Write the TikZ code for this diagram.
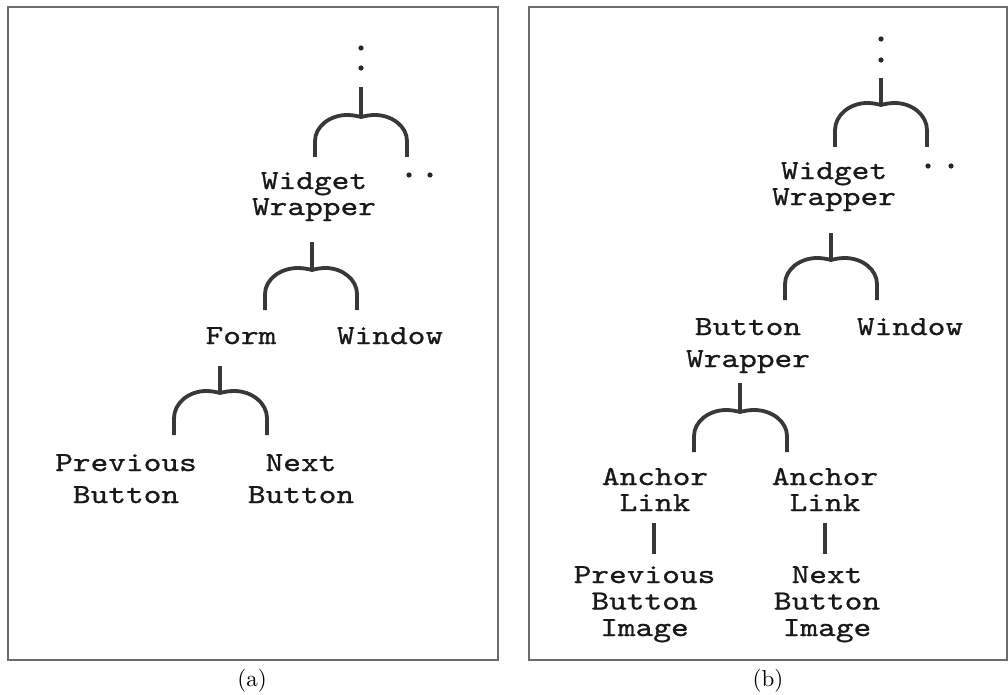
\documentclass[tikz,border=0pt]{standalone}
\usepackage{fontspec}
\newfontfamily\labelfont{lmmono10-regular.otf}[FakeStretch=1.226, FakeBold=0.9]
\newfontfamily\capfont{lmroman10-regular.otf}

% one label: centred lines, base anchor = baseline of the first line
\newcommand\stacklines[2][26]{%
  \vtop{\baselineskip=#1pt\lineskiplimit=-100pt
    \halign{\hfil##\hfil\cr#2\crcr}}}

% fork: stem from (cx,top) to junction (cx,jy), round arms down to (lx,by) and (rx,by)
% #1 name, #2 cx, #3 top, #4 jy, #5 lx, #6 rx, #7 by
\newcommand\fork[7]{%
  \coordinate (#1-t) at (#2,#3);
  \coordinate (#1-j) at (#2,#4);
  \coordinate (#1-l) at (#5,#7);
  \coordinate (#1-r) at (#6,#7);
  \draw[forkline] (#1-t) -- (#1-j);
  \pgfmathsetmacro\fkdl{#5-#2}%
  \pgfmathsetmacro\fkdr{#6-#2}%
  \pgfmathsetmacro\fkry{0.6*(#7-#4)}%
  \draw[forkline] (#1-l) -- ({#5},{#4+\fkry})
    .. controls ({#5},{#4+\fkry-0.552*(\fkry+2)}) and ({#2+0.68*\fkdl},{#4-2})
    .. ({#2+0.3*\fkdl},{#4-2})
    .. controls ({#2+0.18*\fkdl},{#4-2}) and ({#2+0.09*\fkdl},{#4-1}) .. (#1-j)
    .. controls ({#2+0.09*\fkdr},{#4-1}) and ({#2+0.18*\fkdr},{#4-2})
    .. ({#2+0.3*\fkdr},{#4-2})
    .. controls ({#2+0.68*\fkdr},{#4-2}) and ({#6},{#4+\fkry-0.552*(\fkry+2)})
    .. ({#6},{#4+\fkry}) -- (#1-r);
}

\tikzset{
  lbl/.style={font=\labelfont\fontsize{27.5}{26}\selectfont, inner sep=0pt,
              anchor=base, text=black!90},
  forkline/.style={line width=3.8pt, draw=black!78, line join=round},
  panel/.style={line width=1.6pt, draw=black!58},
  capt/.style={font=\capfont\fontsize{23}{27}\selectfont, inner sep=0pt, anchor=base},
  dotmark/.style={fill=black!85},
}

\begin{document}
\begin{tikzpicture}[x=1pt, y=-1pt]
  \useasboundingbox (0,0) rectangle (1008,695);

  % frames
  \draw[panel] (8,7) rectangle (498,660);
  \draw[panel] (529,7) rectangle (1007,660);

  % ---------------- left tree ----------------
  \fill[dotmark] (361,48) circle[radius=2.6pt];
  \fill[dotmark] (361,68) circle[radius=2.6pt];
  \fork{fa1}{361}{87}{117}{315}{407}{157}
  \fill[dotmark] (409,175) circle[radius=2.6pt];
  \fill[dotmark] (430,175) circle[radius=2.6pt];

  \node[lbl] (wwA) at (314,189) {\stacklines{Widget\cr Wrapper}};
  \fork{fa2}{312}{242}{270}{265}{357}{310}
  \node[lbl] (formA) at (241,344) {\stacklines{Form}};
  \node[lbl] (winA) at (390,344) {\stacklines{Window}};
  \fork{fa3}{220}{366}{393}{174}{267}{435}
  \node[lbl] (prevA) at (126,471) {\stacklines[32]{Previous\cr Button}};
  \node[lbl] (nextA) at (301,471) {\stacklines[32]{Next\cr Button}};

  % ---------------- right tree ----------------
  \fill[dotmark] (881,39) circle[radius=2.6pt];
  \fill[dotmark] (881,60) circle[radius=2.6pt];
  \fork{fb1}{881}{78}{105}{835}{927}{147}
  \fill[dotmark] (928,166) circle[radius=2.6pt];
  \fill[dotmark] (951,166) circle[radius=2.6pt];

  \node[lbl] (wwB) at (834,179) {\stacklines{Widget\cr Wrapper}};
  \fork{fb2}{831}{233}{260}{785}{877}{300}
  \node[lbl] (bwB) at (748,335) {\stacklines[32]{Button\cr Wrapper}};
  \node[lbl] (winB) at (910,335) {\stacklines{Window}};
  \fork{fb3}{740}{383}{412}{694}{787}{452}
  \node[lbl] (ancL) at (655,485) {\stacklines{Anchor\cr Link}};
  \node[lbl] (ancR) at (825,485) {\stacklines{Anchor\cr Link}};

  \coordinate (barLt) at (654,523);
  \coordinate (barLb) at (654,554);
  \coordinate (barRt) at (825,523);
  \coordinate (barRb) at (825,554);
  \draw[forkline] (barLt) -- (barLb);
  \draw[forkline] (barRt) -- (barRb);

  \node[lbl] (imgL) at (644.5,583) {\stacklines[26.5]{Previous\cr Button\cr Image}};
  \node[lbl] (imgR) at (827,583) {\stacklines[26.5]{Next\cr Button\cr Image}};

  % captions
  \node[capt] (capA) at (252,686) {(a)};
  \node[capt] (capB) at (768,686) {(b)};
\end{tikzpicture}
\end{document}
